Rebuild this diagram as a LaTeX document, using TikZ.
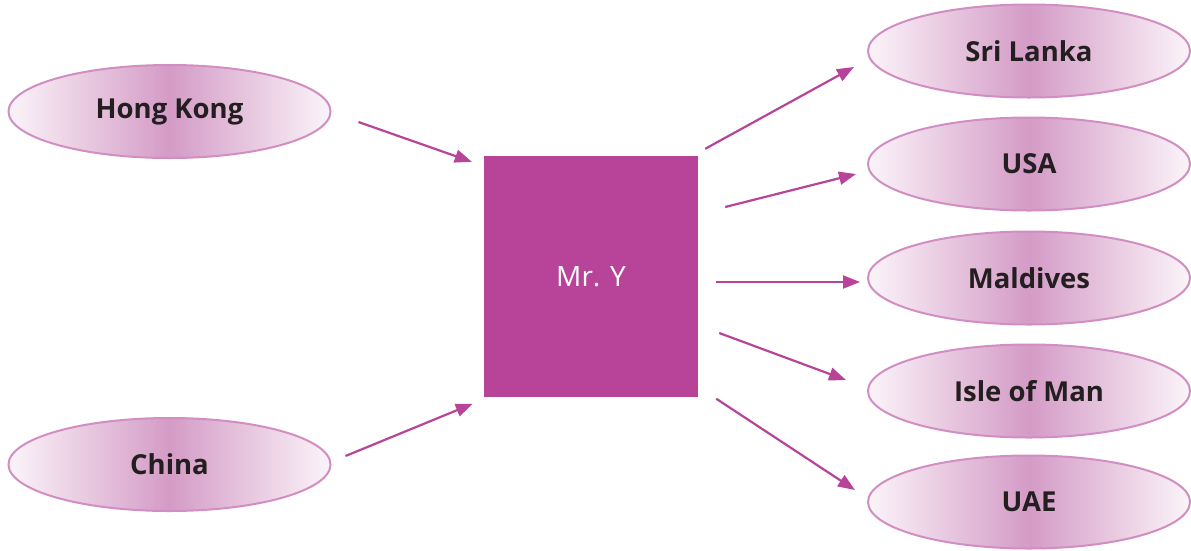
\documentclass[tikz,border=0pt]{standalone}
\usepackage{fontspec}
\setmainfont{Open Sans}
\usetikzlibrary{calc,arrows.meta,shapes.geometric}
\definecolor{plum}{HTML}{B8449A}
\definecolor{orchidmid}{HTML}{D49BC6}
\definecolor{orchidedge}{HTML}{FBF4F9}
\definecolor{orchidline}{HTML}{D28DC2}
\definecolor{inkgray}{HTML}{231F20}
\tikzset{
  country/.style={ellipse, draw=orchidline, line width=2pt,
    left color=orchidedge, right color=orchidedge, middle color=orchidmid,
    minimum width=322pt, minimum height=93pt, inner sep=0pt,
    text=inkgray, font=\fontsize{27.5}{32}\selectfont\bfseries},
  person/.style={rectangle, fill=plum, minimum width=214pt, minimum height=241pt,
    inner sep=0pt, text=white, font=\fontsize{28}{32}\selectfont},
  flow/.style={draw=plum, line width=2.2pt, -{Triangle[length=17pt,width=13pt]}}
}
\begin{document}
\begin{tikzpicture}[x=1pt,y=-1pt]
\useasboundingbox (0,0) rectangle (1191,550);

% central account holder
\node[person] (mry) at (591,276.5) {Mr. Y};

% sources of funds
\node[country] (hk) at (169.5,111.5) {Hong Kong};
\node[country] (cn) at (169.5,464.5) {China};

% destinations
\node[country] (sl)  at (1029,51)  {Sri Lanka};
\node[country] (usa) at (1029,164) {USA};
\node[country] (mv)  at (1029,278) {Maldives};
\node[country] (iom) at (1029,391) {Isle of Man};
\node[country] (uae) at (1029,502) {UAE};

% incoming transfers
\draw[flow] ($(hk.east)+(27,10.5)$) -- ($(mry.north west)+(-12,6)$);
\draw[flow] ($(cn.east)+(14,-8.5)$) -- ($(mry.south west)+(-11,6.5)$);

% outgoing transfers
\draw[flow] ($(mry.north east)+(7,-7)$) -- ($(sl.west)+(-13,16)$);
\draw[flow] ($(mry.east)+(27,-69.5)$) -- ($(usa.west)+(-11,10)$);
\draw[flow] ($(mry.east)+(18,5.5)$) -- ($(mv.west)+(-7,4)$);
\draw[flow] ($(mry.east)+(21,56.5)$) -- ($(iom.west)+(-21,-11)$);
\draw[flow] ($(mry.south east)+(18,1.5)$) -- ($(uae.west)+(-12,-12)$);
\end{tikzpicture}
\end{document}
